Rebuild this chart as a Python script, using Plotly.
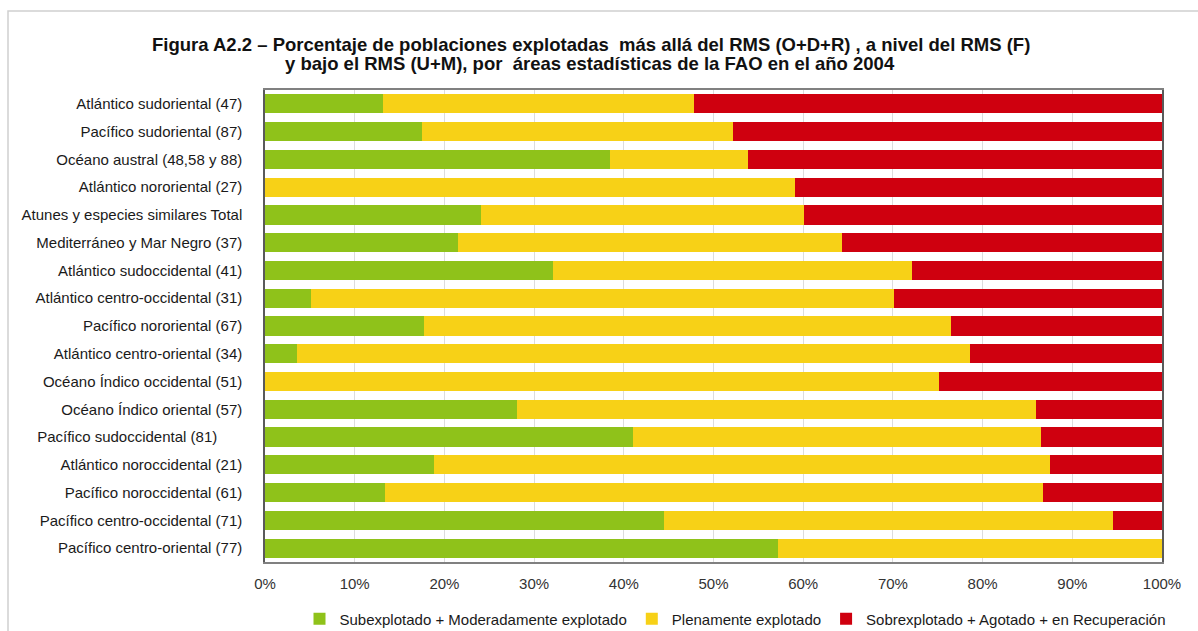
import plotly.graph_objects as go

categories = [
    "Atlántico sudoriental (47)",
    "Pacífico sudoriental (87)",
    "Océano austral (48,58 y 88)",
    "Atlántico nororiental (27)",
    "Atunes y especies similares Total",
    "Mediterráneo y Mar Negro (37)",
    "Atlántico sudoccidental (41)",
    "Atlántico centro-occidental (31)",
    "Pacífico nororiental (67)",
    "Atlántico centro-oriental (34)",
    "Océano Índico occidental (51)",
    "Océano Índico oriental (57)",
    "Pacífico sudoccidental (81)",
    "Atlántico noroccidental (21)",
    "Pacífico noroccidental (61)",
    "Pacífico centro-occidental (71)",
    "Pacífico centro-oriental (77)",
]

sub_moderado = [13.1, 17.5, 38.5, 0.0, 24.1, 21.5, 32.1, 5.1, 17.7, 3.6, 0.0, 28.1, 41.0, 18.8, 13.4, 44.5, 57.2]
plenamente = [34.75, 34.7, 15.4, 59.1, 36.0, 42.8, 40.0, 65.0, 58.8, 75.0, 75.1, 57.9, 45.5, 68.7, 73.3, 50.0, 42.8]
sobreexplotado = [52.15, 47.8, 46.1, 40.9, 39.9, 35.7, 27.9, 29.9, 23.5, 21.4, 24.9, 14.0, 13.5, 12.5, 13.3, 5.5, 0.0]

series_names = [
    "Subexplotado + Moderadamente explotado",
    "Plenamente explotado",
    "Sobrexplotado + Agotado + en Recuperación",
]
colors = ["#8fc21a", "#f7d117", "#cf000f"]

x_ticks = [0, 10, 20, 30, 40, 50, 60, 70, 80, 90, 100]
x_tick_labels = [f"{v}%" for v in x_ticks]

title_lines = [
    "Figura A2.2 – Porcentaje de poblaciones explotadas  más allá del RMS (O+D+R) , a nivel del RMS (F)",
    "y bajo el RMS (U+M), por  áreas estadísticas de la FAO en el año 2004",
]

# the reference shows one label slightly displaced to the left
y_tick_text = [c + ("\u00a0" * 6 if c == "Pacífico sudoccidental (81)" else "") for c in categories]

fig = go.Figure()
for name, vals, col in zip(series_names, [sub_moderado, plenamente, sobreexplotado], colors):
    fig.add_trace(go.Bar(
        y=categories, x=vals, name=name, orientation="h",
        marker=dict(color=col, line=dict(width=0)),
        hoverinfo="x+y+name",
    ))

W, H = 1198, 631
L, R, T, B = 265, 36, 90, 69
pw, ph = W - L - R, H - T - B

def px_x(p):
    return (p - L) / pw

def px_y(p):
    return (H - B - p) / ph

title_font = dict(family="Liberation Sans Narrow, Arial Narrow, Liberation Sans, sans-serif", size=18.5, color="#111111")
annotations = [
    dict(text=f"<b>{title_lines[0]}</b>", xref="paper", yref="paper",
         x=px_x(591), y=px_y(45), xanchor="center", yanchor="middle",
         showarrow=False, font=title_font),
    dict(text=f"<b>{title_lines[1]}</b>", xref="paper", yref="paper",
         x=px_x(590), y=px_y(63), xanchor="center", yanchor="middle",
         showarrow=False, font=title_font),
]

fig.update_layout(
    width=W, height=H,
    barmode="stack",
    bargap=0.31,
    margin=dict(l=L, r=R, t=T, b=B, pad=0, autoexpand=False),
    paper_bgcolor="white",
    plot_bgcolor="white",
    font=dict(family="Liberation Sans, Arial, sans-serif", size=15, color="#1a1a1a"),
    annotations=annotations,
    xaxis=dict(
        range=[0, 100],
        tickvals=x_ticks, ticktext=x_tick_labels,
        showgrid=True, gridcolor="#dcdcdc", gridwidth=1,
        showline=True, linecolor="#808080", linewidth=1.5, mirror=True,
        zeroline=False,
        ticks="", ticklabelstandoff=7,
        tickfont=dict(size=15, color="#333333"),
        fixedrange=True,
    ),
    yaxis=dict(
        categoryorder="array", categoryarray=categories,
        tickvals=categories, ticktext=y_tick_text,
        autorange="reversed",
        showgrid=False,
        showline=True, linecolor="#5a5a5a", linewidth=1.5, mirror=True,
        ticks="", ticklabelstandoff=18,
        tickfont=dict(size=15, color="#1a1a1a"),
        fixedrange=True,
    ),
    legend=dict(
        orientation="h",
        x=px_x(735), xanchor="center",
        y=px_y(619), yanchor="middle",
        font=dict(size=15, color="#1a1a1a"),
        itemwidth=30,
        traceorder="normal",
        bgcolor="rgba(0,0,0,0)",
    ),
    showlegend=True,
    shapes=[
        dict(type="rect", xref="paper", yref="paper",
             x0=px_x(8), x1=px_x(1240), y0=px_y(700), y1=px_y(11),
             line=dict(color="#d0d0d0", width=1.5), fillcolor="rgba(0,0,0,0)", layer="below"),
    ],
)

fig.write_html("out.html")
